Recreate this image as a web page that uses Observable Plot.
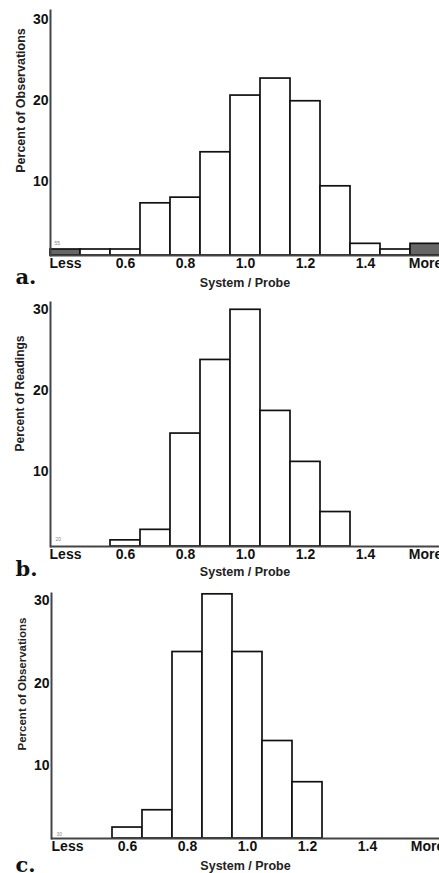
<!DOCTYPE html>
<html><head><meta charset="utf-8">
<script src="https://cdn.jsdelivr.net/npm/d3@7"></script>
<script src="https://cdn.jsdelivr.net/npm/@observablehq/plot@0.6"></script>
<style>
html,body{margin:0;padding:0;background:#fff}
body{width:439px;overflow:hidden}
#chart svg{display:block}
</style></head><body><div id="chart"></div>
<script>
const bins = ["Less","0.5","0.6","0.7","0.8","0.9","1.0","1.1","1.2","1.3","1.4","1.5","More"];
const tickLabels = ["Less","0.6","0.8","1.0","1.2","1.4","More"];
const yTicks = [10,20,30];
const xTitle = "System / Probe";
const valuesA = [1.6,1.6,1.6,7.3,8.0,13.6,20.6,22.7,19.9,9.4,2.3,1.6,2.3];
const valuesB = [0,0,1.5,2.8,14.7,23.8,30.0,17.5,11.2,5.0,0,0,0];
const valuesC = [0,0,2.5,4.6,23.8,30.8,23.8,13.0,8.0,0,0,0,0];
const shadedA = ["Less","More"];
const yTitles = ["Percent of Observations","Percent of Readings","Percent of Observations"];
const letters = ["a.","b.","c."];
const notes = ["55","20","30"];

const layout = [
  {values:valuesA, shaded:shadedA, height:290, mt:10, mb:35, x0:50, bw:30, yMin:0.86, yMax:31.1,
   yt:{dx:-30, cy:100, size:12.5, font:"Liberation Sans, Arial, sans-serif"}, xtY:27, letY:22, note:{dx:4, dy:-12}},
  {values:valuesB, shaded:[], height:290, mt:12, mb:34, x0:50, bw:30, yMin:0.74, yMax:30.9,
   yt:{dx:-30, cy:103, size:12, font:"Liberation Sans Narrow, Arial Narrow, Liberation Sans, sans-serif"}, xtY:25, letY:23, note:{dx:5, dy:-7}},
  {values:valuesC, shaded:[], height:293, mt:13, mb:35, x0:51, bw:30.1, yMin:1.17, yMax:30.9,
   yt:{dx:-29.5, cy:103.5, size:11.5, font:"Liberation Sans, Arial, sans-serif"}, xtY:27, letY:27, note:{dx:5, dy:-4}}
];

const root = document.getElementById("chart");
layout.forEach((p, k) => {
  const data = bins.map((b,i)=>({bin:b, v:p.values[i], fillc: p.shaded.includes(b) ? "#666" : "#fff"})).filter(d=>d.v>0);
  const svg = Plot.plot({
    width:439, height:p.height,
    marginLeft:p.x0, marginRight:0, marginTop:p.mt, marginBottom:p.mb,
    style:{fontFamily:"Liberation Sans, Arial, sans-serif", fontSize:"14px", fontWeight:"bold", color:"#111", background:"#fff"},
    x:{type:"band", domain:bins, range:[p.x0, p.x0 + p.bw*bins.length], padding:0, axis:null},
    y:{domain:[p.yMin, p.yMax], axis:null},
    marks:[
      Plot.barY(data, {x:"bin", y1:p.yMin, y2:"v", fill:"fillc", stroke:"#111", strokeWidth:1.7}),
      Plot.ruleY([p.yMin], {stroke:"#444", strokeWidth:2}),
      Plot.frame({anchor:"left", stroke:"#444", strokeWidth:2}),
      Plot.axisX({ticks:tickLabels, tickSize:0, tickPadding:3, label:null, fill:"#111"}),
      Plot.axisY({ticks:yTicks, tickSize:0, tickPadding:2, label:null, tickFormat:d=>String(d), fill:"#111"}),
      Plot.text([yTitles[k]], {frameAnchor:"top-left", rotate:-90, dx:p.yt.dx, dy:p.yt.cy - p.mt, textAnchor:"middle", lineAnchor:"middle", fontSize:p.yt.size, fontWeight:"bold", fontFamily:p.yt.font, fill:"#222"}),
      Plot.text([xTitle], {frameAnchor:"bottom", dy:p.xtY, lineAnchor:"middle", fontSize:12.5, fontWeight:"bold", fill:"#222"}),
      Plot.text([letters[k]], {frameAnchor:"bottom-left", dx:15 - p.x0, dy:p.letY, textAnchor:"start", lineAnchor:"middle", fontSize:21, fontWeight:"bold", fontFamily:"DejaVu Serif, serif", fill:"#111"}),
      Plot.text([notes[k]], {frameAnchor:"bottom-left", dx:p.note.dx, dy:p.note.dy, textAnchor:"start", lineAnchor:"middle", fontSize:5, fontWeight:"normal", fill:"#888"})
    ]
  });
  root.appendChild(svg);
});
</script></body></html>
